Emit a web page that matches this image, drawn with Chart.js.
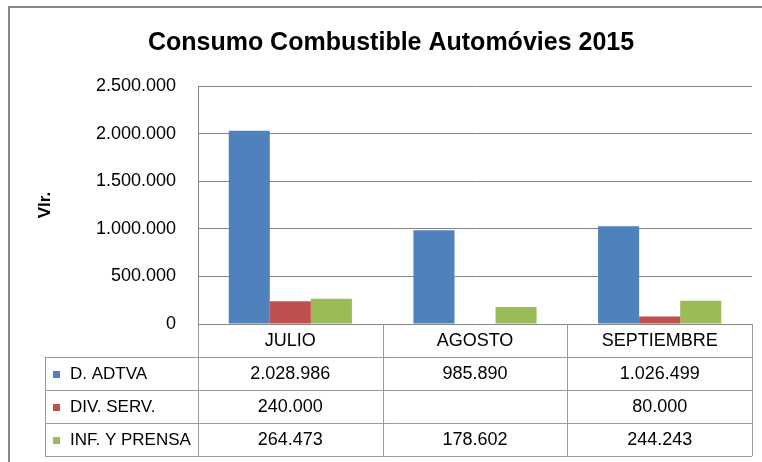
<!DOCTYPE html>
<html>
<head>
<meta charset="utf-8">
<script src="https://cdn.jsdelivr.net/npm/chart.js@4/dist/chart.umd.min.js"></script>
<style>
html,body{margin:0;padding:0;background:#fff;}
#wrap{width:762px;height:462px;position:relative;}
</style>
</head>
<body>
<div id="wrap"><canvas id="c" width="762" height="462"></canvas></div>
<script>
const categories = ['JULIO', 'AGOSTO', 'SEPTIEMBRE'];
const seriesNames = ['D. ADTVA', 'DIV. SERV.', 'INF. Y PRENSA'];
const dAdtva = [2028986, 985890, 1026499];
const divServ = [240000, null, 80000];
const infPrensa = [264473, 178602, 244243];
const yTickValues = [0, 500000, 1000000, 1500000, 2000000, 2500000];
const seriesColors = ['#4F81BD', '#C0504D', '#9BBB59'];
const seriesValues = [dAdtva, divServ, infPrensa];

const FONT = '"Liberation Sans", Arial, sans-serif';
function fmt(v) {
  if (v === null || v === undefined) return '';
  return String(Math.round(v)).replace(/\B(?=(\d{3})+(?!\d))/g, '.');
}

const frame = {
  id: 'frame',
  beforeDraw(chart) {
    const ctx = chart.ctx;
    ctx.save();
    ctx.fillStyle = '#ffffff';
    ctx.fillRect(0, 0, chart.width, chart.height);
    ctx.strokeStyle = '#878787';
    ctx.lineWidth = 2;
    ctx.beginPath();
    ctx.moveTo(9, chart.height + 2);
    ctx.lineTo(9, 7);
    ctx.lineTo(chart.width + 2, 7);
    ctx.stroke();
    ctx.restore();
  }
};

const dataTable = {
  id: 'dataTable',
  afterDraw(chart) {
    const ctx = chart.ctx;
    const xs = chart.scales.x;
    const area = chart.chartArea;
    const n = categories.length;
    const cw = (xs.right - xs.left) / n;
    const top = area.bottom;
    const rowH = 33;
    const tableLeft = 45;
    const right = xs.right;
    const bottom = top + rowH * (seriesNames.length + 1);
    ctx.save();
    ctx.strokeStyle = '#9a9a9a';
    ctx.lineWidth = 1;
    ctx.beginPath();
    for (let r = 1; r <= seriesNames.length + 1; r++) {
      const y = Math.round(top + r * rowH) + 0.5;
      ctx.moveTo(tableLeft, y);
      ctx.lineTo(right, y);
    }
    for (let i = 0; i <= n; i++) {
      const x = i === n
        ? Math.round(xs.getPixelForValue(n - 1) + cw / 2) + 0.5
        : Math.round(xs.getPixelForValue(i) - cw / 2) + 0.5;
      ctx.moveTo(x, top);
      ctx.lineTo(x, bottom);
    }
    ctx.moveTo(tableLeft + 0.5, top + rowH);
    ctx.lineTo(tableLeft + 0.5, bottom);
    ctx.stroke();

    ctx.fillStyle = '#000';
    ctx.textBaseline = 'middle';
    ctx.textAlign = 'center';
    ctx.font = '18px ' + FONT;
    categories.forEach((c, i) => {
      ctx.fillText(c, xs.getPixelForValue(i), top + rowH / 2 + 1);
    });
    seriesNames.forEach((s, r) => {
      const cy = top + rowH * (r + 1) + rowH / 2 + 1;
      ctx.fillStyle = seriesColors[r];
      ctx.fillRect(53, Math.round(cy - 4), 7, 7);
      ctx.fillStyle = '#000';
      ctx.textAlign = 'left';
      ctx.font = '17px ' + FONT;
      ctx.fillText(s, 70, cy);
      ctx.textAlign = 'center';
      ctx.font = '18px ' + FONT;
      seriesValues[r].forEach((v, i) => {
        ctx.fillText(fmt(v), xs.getPixelForValue(i), cy);
      });
    });
    ctx.restore();
  }
};

new Chart(document.getElementById('c'), {
  type: 'bar',
  data: {
    labels: categories,
    datasets: seriesNames.map((name, k) => ({
      label: name,
      data: seriesValues[k],
      backgroundColor: seriesColors[k],
      borderWidth: 0,
      categoryPercentage: 0.667,
      barPercentage: 1.0
    }))
  },
  options: {
    responsive: false,
    animation: false,
    devicePixelRatio: 1,
    layout: { padding: { left: 30, right: 10, top: 0, bottom: 138 } },
    plugins: {
      legend: { display: false },
      tooltip: { enabled: false },
      title: {
        display: true,
        text: 'Consumo Combustible Automóvies 2015',
        color: '#000',
        font: { family: FONT, size: 25, weight: 'bold' },
        padding: { top: 28, bottom: 28 }
      }
    },
    scales: {
      x: {
        display: false
      },
      y: {
        min: 0,
        max: 2500000,
        afterBuildTicks(scale) {
          scale.ticks = yTickValues.map(v => ({ value: v }));
        },
        afterFit(scale) { scale.width = 168; },
        grid: { color: '#868686', lineWidth: 1, drawTicks: false },
        border: { display: true, color: '#868686', width: 1 },
        ticks: {
          color: '#000',
          padding: 22,
          font: { family: FONT, size: 18 },
          callback: (v) => fmt(v)
        },
        title: {
          display: true,
          text: 'Vlr.',
          color: '#000',
          font: { family: FONT, size: 17, weight: 'bold' },
          padding: { top: 5, bottom: 0 }
        }
      }
    }
  },
  plugins: [frame, dataTable]
});
</script>
</body>
</html>
